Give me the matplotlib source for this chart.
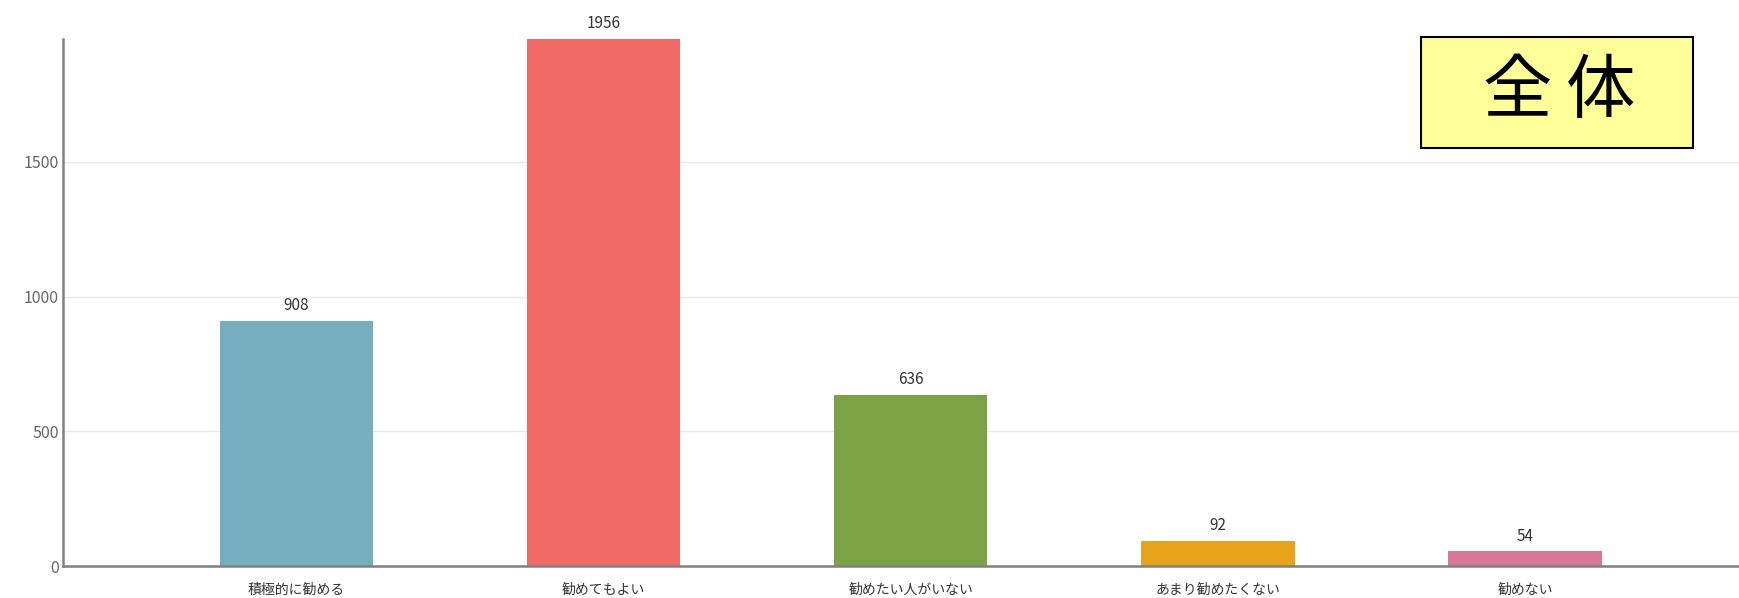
import matplotlib
matplotlib.use("Agg")
import matplotlib.pyplot as plt
from matplotlib.patches import Rectangle

plt.rcParams['font.family'] = ['Noto Sans CJK JP', 'DejaVu Sans']

# データ
categories = ['積極的に勧める', '勧めてもよい', '勧めたい人がいない', 'あまり勧めたくない', '勧めない']
counts = [908, 1956, 636, 92, 54]
colors = ['#75AFBF', '#F06A66', '#7BA244', '#E8A31C', '#D97799']
yticks = [0, 500, 1000, 1500]

fig = plt.figure(figsize=(17.4, 5.98), dpi=100)
ax = fig.add_axes([0.0362, 0.0535, 0.9638, 0.8813])

x = range(len(categories))
bars = ax.bar(x, counts, width=0.5, color=colors, zorder=2)

for b, v in zip(bars, counts):
    ax.annotate(str(v), (b.get_x() + b.get_width() / 2, v),
                xytext=(0, 5), textcoords='offset points',
                ha='center', va='bottom', fontsize=11, color='#333333')

ax.set_xlim(-0.76, 4.70)
ax.set_ylim(0, 1956)
ax.set_yticks(yticks)
ax.set_xticks(list(x))
ax.set_xticklabels(categories, fontsize=10, color='#333333')
ax.tick_params(axis='y', length=0, labelsize=11.5, labelcolor='#666666', pad=3)
ax.tick_params(axis='x', length=0, pad=12)
ax.grid(axis='y', color='#E8E8E8', linewidth=1, zorder=0)

for s in ['top', 'right']:
    ax.spines[s].set_visible(False)
for s in ['left', 'bottom']:
    ax.spines[s].set_color('#808080')
    ax.spines[s].set_linewidth(1.8)

# 右上のラベル
fig.patches.append(Rectangle((0.8167, 0.7525), 0.1563, 0.1856, transform=fig.transFigure,
                             facecolor='#FFFF99', edgecolor='black', linewidth=1.5))
fig.text(0.8718, 0.845, '全', fontsize=50, ha='center', va='center')
fig.text(0.9201, 0.845, '体', fontsize=50, ha='center', va='center')

fig.savefig('out.png', dpi=100)
